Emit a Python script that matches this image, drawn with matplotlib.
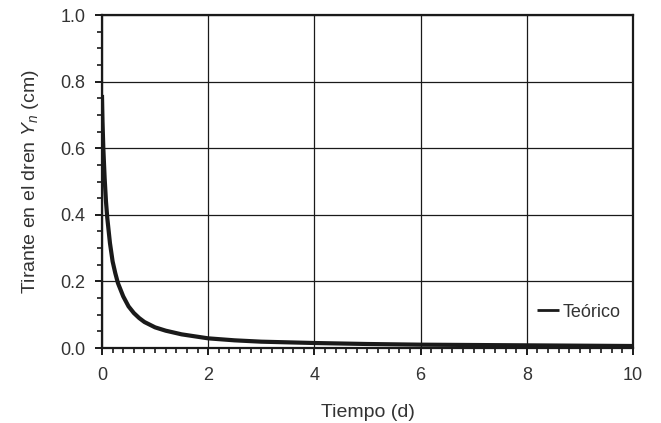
import matplotlib
matplotlib.use("Agg")
import matplotlib.pyplot as plt
from matplotlib.ticker import MultipleLocator

plt.rcParams['font.family'] = ['Liberation Sans', 'DejaVu Sans']
plt.rcParams['mathtext.fontset'] = 'custom'
plt.rcParams['mathtext.rm'] = 'Liberation Sans'
plt.rcParams['mathtext.it'] = 'Liberation Sans:italic'

tiempo = [0, 0.01, 0.025, 0.05, 0.075, 0.1, 0.15, 0.2, 0.25, 0.3, 0.4, 0.5, 0.6, 0.7,
          0.8, 1.0, 1.2, 1.5, 2, 2.5, 3, 4, 5, 6, 7, 8, 9, 10]
tirante = [0.76, 0.68, 0.60, 0.51, 0.44, 0.39, 0.315, 0.26, 0.225, 0.195, 0.155, 0.125,
           0.105, 0.09, 0.078, 0.062, 0.052, 0.041, 0.029, 0.023, 0.019, 0.015, 0.012,
           0.010, 0.009, 0.008, 0.007, 0.006]
serie = "Teórico"

fig = plt.figure(figsize=(6.61, 4.23), dpi=100)
ax = fig.add_axes([0.1543, 0.1773, 0.8033, 0.7872])

ax.plot(tiempo, tirante, color='#1a1a1a', lw=3.0, label=serie,
        solid_capstyle='butt', solid_joinstyle='round')

ax.set_xlim(0, 10)
ax.set_ylim(0, 1.0)
ax.xaxis.set_major_locator(MultipleLocator(2))
ax.xaxis.set_minor_locator(MultipleLocator(0.2))
ax.yaxis.set_major_locator(MultipleLocator(0.2))
ax.yaxis.set_minor_locator(MultipleLocator(0.05))
ax.yaxis.set_major_formatter(plt.FormatStrFormatter('%.1f'))

ax.grid(True, which='major', color='#1a1a1a', lw=0.9)
for s in ax.spines.values():
    s.set_linewidth(1.6)
    s.set_color('#1a1a1a')

ax.tick_params(which='major', direction='out', length=5, width=1.4, colors='#1a1a1a',
               labelsize=13, labelcolor='#333333')
ax.tick_params(axis='x', which='major', pad=9)
ax.tick_params(axis='y', which='major', pad=7)
ax.tick_params(which='minor', direction='out', length=3.5, width=1.2, colors='#1a1a1a')

ax.set_xlabel('Tiempo (d)', fontsize=14, color='#333333', labelpad=14)
ax.set_ylabel(r'Tirante en el dren $Y_n$ (cm)', fontsize=14, color='#333333', labelpad=14)

leg = ax.legend(loc='center right', bbox_to_anchor=(1.0, 0.108), frameon=False,
                fontsize=13, handlelength=1.2, handletextpad=0.2, borderaxespad=0.3)
for t in leg.get_texts():
    t.set_color('#333333')
for h in leg.get_lines():
    h.set_linewidth(2.0)

fig.savefig('out.png', dpi=100)
